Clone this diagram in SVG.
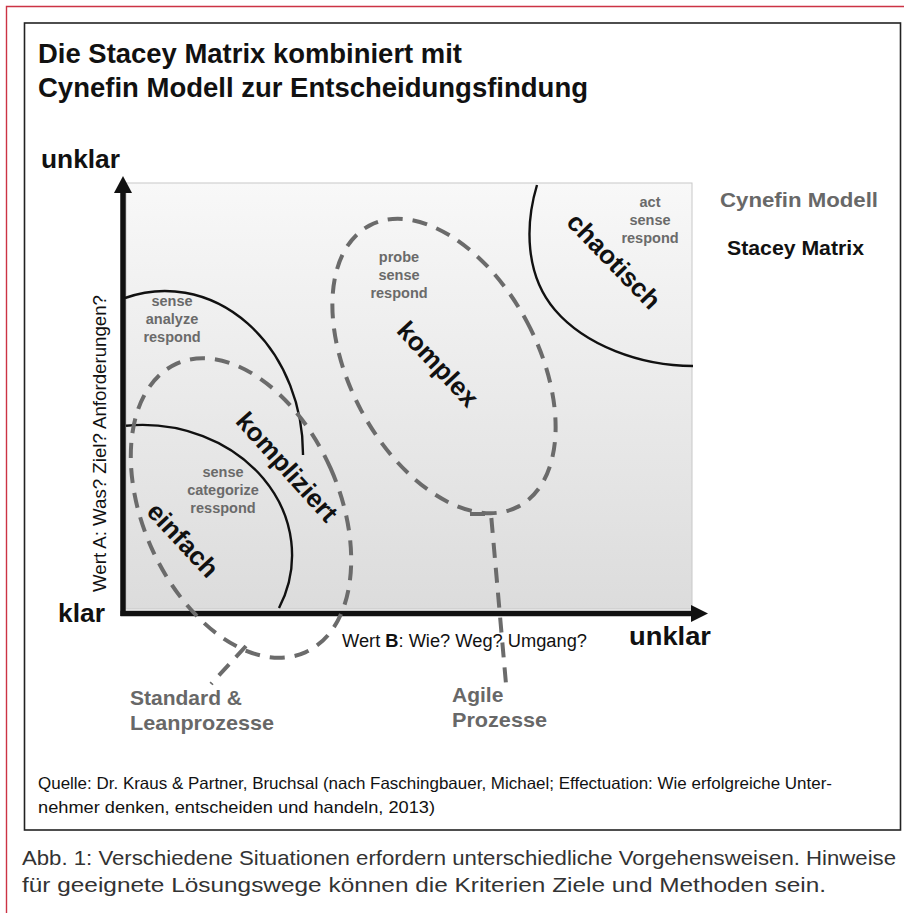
<svg xmlns="http://www.w3.org/2000/svg" width="904" height="913" viewBox="0 0 904 913">
<defs>
<linearGradient id="bg" x1="0" y1="0" x2="0" y2="1">
<stop offset="0" stop-color="#f8f8f8"/>
<stop offset="1" stop-color="#dcdcdc"/>
</linearGradient>
<style>
.t{font-family:"Liberation Sans",Arial,sans-serif;}
.b{font-weight:bold;}
.g{fill:#686868;}
.lbl{font-family:"Liberation Sans",Arial,sans-serif;font-weight:bold;font-size:26px;fill:#111;text-anchor:middle;}
.sm{font-family:"Liberation Sans",Arial,sans-serif;font-weight:bold;font-size:14.5px;fill:#6a6a6a;text-anchor:middle;}
.solid{fill:none;stroke:#111;stroke-width:2.4;}
.dash{fill:none;stroke:#6b6b6b;stroke-width:4;stroke-dasharray:15 10;}
.axis{stroke:#111;stroke-width:5.5;}
.ft{font-family:"Liberation Sans",Arial,sans-serif;}
</style>
</defs>
<rect width="904" height="913" fill="#fff"/>
<path d="M6.5,913 V6.5 H904" fill="none" stroke="#cc3344" stroke-width="1.4"/>
<rect x="24.5" y="23" width="876" height="807" fill="none" stroke="#222" stroke-width="1.6"/>

<g id="title" class="t b" font-size="27" fill="#111">
<text x="38" y="62.5" textLength="424" lengthAdjust="spacingAndGlyphs">Die Stacey Matrix kombiniert mit</text>
<text x="38" y="97" textLength="550" lengthAdjust="spacingAndGlyphs">Cynefin Modell zur Entscheidungsfindung</text>
</g>

<g id="plot">
<rect x="126" y="183" width="566" height="426" fill="url(#bg)" stroke="#c8c8c8" stroke-width="1"/>
</g>

<g id="stacey-kompliziert">
<path class="solid" d="M125,298 A138,163 0 0 1 303,455"/>
<text class="sm" x="172" y="306">sense</text>
<text class="sm" x="172" y="324">analyze</text>
<text class="sm" x="172" y="342">respond</text>
<text class="lbl" transform="translate(287,467) rotate(48)" y="9">kompliziert</text>
</g>

<g id="stacey-einfach">
<path class="solid" d="M126,425.7 A150,130 0 0 1 279,608"/>
<text class="sm" x="223" y="477">sense</text>
<text class="sm" x="223" y="495">categorize</text>
<text class="sm" x="223" y="513">resspond</text>
<text class="lbl" transform="translate(183,540) rotate(47)" y="9">einfach</text>
</g>

<g id="stacey-chaotisch">
<path class="solid" d="M537,185 C525,225 525,275 555,310 C585,345 640,366 693,366"/>
<text class="sm" x="650" y="207">act</text>
<text class="sm" x="650" y="225">sense</text>
<text class="sm" x="650" y="242.5">respond</text>
<text class="lbl" transform="translate(614,261) rotate(46)" y="9">chaotisch</text>
</g>

<g id="komplex">
<text class="sm" x="399" y="262">probe</text>
<text class="sm" x="399" y="280">sense</text>
<text class="sm" x="399" y="297.5">respond</text>
<text class="lbl" transform="translate(438,364) rotate(47)" y="9">komplex</text>
</g>

<g id="axes">
<line class="axis" x1="123" y1="616" x2="123" y2="190"/>
<polygon points="123,176 114,193 132,193" fill="#111"/>
<line class="axis" x1="120.5" y1="613.5" x2="692" y2="613.5"/>
<polygon points="708,613.5 691,605 691,622" fill="#111"/>
<text class="t b" font-size="26" x="41" y="168" textLength="79" lengthAdjust="spacingAndGlyphs" fill="#111">unklar</text>
<text class="t b" font-size="25" x="58" y="622" textLength="47" lengthAdjust="spacingAndGlyphs" fill="#111">klar</text>
<text class="t b" font-size="26" x="629" y="645" textLength="82" lengthAdjust="spacingAndGlyphs" fill="#111">unklar</text>
<text class="t" font-size="18" transform="translate(106,592) rotate(-90)" textLength="297" lengthAdjust="spacingAndGlyphs" fill="#111">Wert A: Was? Ziel? Anforderungen?</text>
<text class="t" font-size="18" x="342" y="647" textLength="245" lengthAdjust="spacingAndGlyphs" fill="#111">Wert <tspan font-weight="bold">B</tspan>: Wie? Weg? Umgang?</text>
</g>

<g id="connectors">
<ellipse class="dash" cx="444" cy="366" rx="94" ry="159" transform="rotate(-28 444 366)"/>
<ellipse class="dash" cx="241" cy="508" rx="98" ry="158" transform="rotate(-24 241 508)"/>
<path class="dash" d="M470,514 H491 L506,684"/>
<path class="dash" d="M246,646 L211,684"/>
</g>

<g id="standard">
<text class="t b g" font-size="21" x="130" y="705">Standard &amp;</text>
<text class="t b g" font-size="21" x="130" y="730" textLength="144" lengthAdjust="spacingAndGlyphs">Leanprozesse</text>
</g>

<g id="agile">
<text class="t b g" font-size="21" x="452" y="702">Agile</text>
<text class="t b g" font-size="21" x="452" y="727" textLength="95" lengthAdjust="spacingAndGlyphs">Prozesse</text>
</g>

<g id="legend">
<text class="t b g" font-size="21" x="720" y="207" textLength="158" lengthAdjust="spacingAndGlyphs">Cynefin Modell</text>
<text class="t b" font-size="21" x="727" y="255" textLength="137" lengthAdjust="spacingAndGlyphs" fill="#111">Stacey Matrix</text>
</g>

<g id="source" class="ft" font-size="16.5" fill="#111">
<text x="38" y="789" textLength="794" lengthAdjust="spacingAndGlyphs">Quelle: Dr. Kraus &amp; Partner, Bruchsal (nach Faschingbauer, Michael; Effectuation: Wie erfolgreiche Unter-</text>
<text x="38" y="813" textLength="397" lengthAdjust="spacingAndGlyphs">nehmer denken, entscheiden und handeln, 2013)</text>
</g>

<g id="caption" class="ft" font-size="21" fill="#333">
<text x="22" y="865" textLength="874" lengthAdjust="spacingAndGlyphs">Abb. 1: Verschiedene Situationen erfordern unterschiedliche Vorgehensweisen. Hinweise</text>
<text x="22" y="892" textLength="804" lengthAdjust="spacingAndGlyphs">für geeignete Lösungswege können die Kriterien Ziele und Methoden sein.</text>
</g>
</svg>
